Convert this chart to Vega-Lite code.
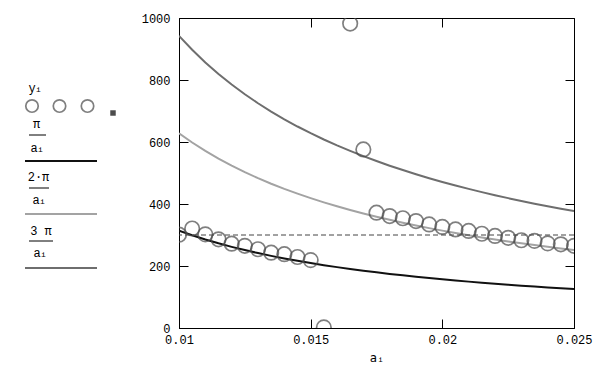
{
  "$schema": "https://vega.github.io/schema/vega-lite/v6.json",
  "background": "white",
  "padding": {"left": 0, "top": 11, "right": 5, "bottom": 5},
  "config": {"view": {"stroke": null}, "font": "Liberation Mono"},
  "bounds": "flush",
  "spacing": 29,
  "datasets": {
    "curves": [
      {"a": 0.0100, "p1": 314.16, "p2": 628.32, "p3": 942.48},
      {"a": 0.0105, "p1": 299.20, "p2": 598.40, "p3": 897.60},
      {"a": 0.0110, "p1": 285.60, "p2": 571.20, "p3": 856.80},
      {"a": 0.0115, "p1": 273.18, "p2": 546.36, "p3": 819.55},
      {"a": 0.0120, "p1": 261.80, "p2": 523.60, "p3": 785.40},
      {"a": 0.0125, "p1": 251.33, "p2": 502.65, "p3": 753.98},
      {"a": 0.0130, "p1": 241.66, "p2": 483.32, "p3": 724.98},
      {"a": 0.0135, "p1": 232.71, "p2": 465.42, "p3": 698.13},
      {"a": 0.0140, "p1": 224.40, "p2": 448.80, "p3": 673.20},
      {"a": 0.0145, "p1": 216.66, "p2": 433.32, "p3": 649.98},
      {"a": 0.0150, "p1": 209.44, "p2": 418.88, "p3": 628.32},
      {"a": 0.0155, "p1": 202.68, "p2": 405.36, "p3": 608.04},
      {"a": 0.0160, "p1": 196.35, "p2": 392.70, "p3": 589.05},
      {"a": 0.0165, "p1": 190.40, "p2": 380.80, "p3": 571.20},
      {"a": 0.0170, "p1": 184.80, "p2": 369.60, "p3": 554.40},
      {"a": 0.0175, "p1": 179.52, "p2": 359.04, "p3": 538.56},
      {"a": 0.0180, "p1": 174.53, "p2": 349.07, "p3": 523.60},
      {"a": 0.0185, "p1": 169.82, "p2": 339.64, "p3": 509.46},
      {"a": 0.0190, "p1": 165.35, "p2": 330.69, "p3": 496.04},
      {"a": 0.0195, "p1": 161.11, "p2": 322.22, "p3": 483.32},
      {"a": 0.0200, "p1": 157.08, "p2": 314.16, "p3": 471.24},
      {"a": 0.0205, "p1": 153.25, "p2": 306.50, "p3": 459.75},
      {"a": 0.0210, "p1": 149.60, "p2": 299.20, "p3": 448.80},
      {"a": 0.0215, "p1": 146.12, "p2": 292.24, "p3": 438.37},
      {"a": 0.0220, "p1": 142.80, "p2": 285.60, "p3": 428.40},
      {"a": 0.0225, "p1": 139.63, "p2": 279.25, "p3": 418.88},
      {"a": 0.0230, "p1": 136.59, "p2": 273.18, "p3": 409.77},
      {"a": 0.0235, "p1": 133.69, "p2": 267.38, "p3": 401.07},
      {"a": 0.0240, "p1": 130.90, "p2": 261.80, "p3": 392.70},
      {"a": 0.0245, "p1": 128.23, "p2": 256.46, "p3": 384.69},
      {"a": 0.0250, "p1": 125.66, "p2": 251.33, "p3": 377.00}
    ],
    "obs": [
      {"a": 0.0100, "y": 301},
      {"a": 0.0105, "y": 321},
      {"a": 0.0110, "y": 302},
      {"a": 0.0115, "y": 286},
      {"a": 0.0120, "y": 272},
      {"a": 0.0125, "y": 265},
      {"a": 0.0130, "y": 254},
      {"a": 0.0135, "y": 243},
      {"a": 0.0140, "y": 238},
      {"a": 0.0145, "y": 229},
      {"a": 0.0150, "y": 219},
      {"a": 0.0155, "y": 2},
      {"a": 0.0165, "y": 982},
      {"a": 0.0170, "y": 576},
      {"a": 0.0175, "y": 372},
      {"a": 0.0180, "y": 361},
      {"a": 0.0185, "y": 354},
      {"a": 0.0190, "y": 345},
      {"a": 0.0195, "y": 334},
      {"a": 0.0200, "y": 326},
      {"a": 0.0205, "y": 318},
      {"a": 0.0210, "y": 313},
      {"a": 0.0215, "y": 304},
      {"a": 0.0220, "y": 297},
      {"a": 0.0225, "y": 291},
      {"a": 0.0230, "y": 283},
      {"a": 0.0235, "y": 281},
      {"a": 0.0240, "y": 273},
      {"a": 0.0245, "y": 270},
      {"a": 0.0250, "y": 265}
    ]
  },
  "hconcat": [
    {
      "width": 150,
      "height": 310,
      "view": {"stroke": null},
      "data": {"values": [{}]},
      "layer": [
        {"mark": {"type": "text", "fontSize": 12, "font": "Liberation Mono", "color": "black"},
         "encoding": {"x": {"datum": 32, "type": "quantitative", "scale": {"domain": [0, 150], "nice": false, "zero": false}, "axis": null},
                      "y": {"datum": 70, "type": "quantitative", "scale": {"domain": [0, 310], "nice": false, "zero": false, "reverse": true}, "axis": null},
                      "text": {"value": "y"}}},
        {"mark": {"type": "text", "fontSize": 8, "font": "Liberation Mono", "color": "black"},
         "encoding": {"x": {"datum": 38.5}, "y": {"datum": 72}, "text": {"value": "i"}}},
        {"mark": {"type": "point", "shape": "circle", "filled": false, "size": 155, "strokeWidth": 1.7, "color": "#4a4a4a"},
         "encoding": {"x": {"datum": 32}, "y": {"datum": 88}}},
        {"mark": {"type": "point", "shape": "circle", "filled": false, "size": 155, "strokeWidth": 1.7, "color": "#4a4a4a"},
         "encoding": {"x": {"datum": 59.5}, "y": {"datum": 88}}},
        {"mark": {"type": "point", "shape": "circle", "filled": false, "size": 155, "strokeWidth": 1.7, "color": "#4a4a4a"},
         "encoding": {"x": {"datum": 87.5}, "y": {"datum": 88}}},
        {"mark": {"type": "square", "filled": true, "size": 30, "color": "black"},
         "encoding": {"x": {"datum": 113}, "y": {"datum": 95}}},
        {"mark": {"type": "text", "fontSize": 12, "font": "Liberation Mono", "color": "black"},
         "encoding": {"x": {"datum": 36.5}, "y": {"datum": 106}, "text": {"value": "π"}}},
        {"mark": {"type": "rule", "color": "black", "strokeWidth": 1},
         "encoding": {"x": {"datum": 29}, "x2": {"datum": 46}, "y": {"datum": 117}}},
        {"mark": {"type": "text", "fontSize": 12, "font": "Liberation Mono", "color": "black"},
         "encoding": {"x": {"datum": 34}, "y": {"datum": 130}, "text": {"value": "a"}}},
        {"mark": {"type": "text", "fontSize": 8, "font": "Liberation Mono", "color": "black"},
         "encoding": {"x": {"datum": 40.5}, "y": {"datum": 132}, "text": {"value": "i"}}},
        {"mark": {"type": "rule", "color": "#111111", "strokeWidth": 2},
         "encoding": {"x": {"datum": 25}, "x2": {"datum": 97}, "y": {"datum": 143}}},
        {"mark": {"type": "text", "fontSize": 12, "font": "Liberation Mono", "color": "black"},
         "encoding": {"x": {"datum": 38.5}, "y": {"datum": 159}, "text": {"value": "2·π"}}},
        {"mark": {"type": "rule", "color": "black", "strokeWidth": 1},
         "encoding": {"x": {"datum": 29}, "x2": {"datum": 49}, "y": {"datum": 170}}},
        {"mark": {"type": "text", "fontSize": 12, "font": "Liberation Mono", "color": "black"},
         "encoding": {"x": {"datum": 36}, "y": {"datum": 182}, "text": {"value": "a"}}},
        {"mark": {"type": "text", "fontSize": 8, "font": "Liberation Mono", "color": "black"},
         "encoding": {"x": {"datum": 42.5}, "y": {"datum": 184}, "text": {"value": "i"}}},
        {"mark": {"type": "rule", "color": "#a3a3a3", "strokeWidth": 2},
         "encoding": {"x": {"datum": 25}, "x2": {"datum": 97}, "y": {"datum": 196}}},
        {"mark": {"type": "text", "fontSize": 12, "font": "Liberation Mono", "color": "black"},
         "encoding": {"x": {"datum": 41}, "y": {"datum": 213}, "text": {"value": "3 π"}}},
        {"mark": {"type": "rule", "color": "black", "strokeWidth": 1},
         "encoding": {"x": {"datum": 29}, "x2": {"datum": 53}, "y": {"datum": 223}}},
        {"mark": {"type": "text", "fontSize": 12, "font": "Liberation Mono", "color": "black"},
         "encoding": {"x": {"datum": 37}, "y": {"datum": 235}, "text": {"value": "a"}}},
        {"mark": {"type": "text", "fontSize": 8, "font": "Liberation Mono", "color": "black"},
         "encoding": {"x": {"datum": 43.5}, "y": {"datum": 237}, "text": {"value": "i"}}},
        {"mark": {"type": "rule", "color": "#6e6e6e", "strokeWidth": 2},
         "encoding": {"x": {"datum": 25}, "x2": {"datum": 97}, "y": {"datum": 250}}}
      ]
    },
    {
      "width": 395,
      "height": 310,
      "view": {"stroke": "black", "strokeWidth": 1},
      "resolve": {"axis": {"x": "independent", "y": "independent"}},
      "layer": [
        {
          "data": {"name": "curves"},
          "mark": {"type": "line", "color": "#6e6e6e", "strokeWidth": 2, "clip": true},
          "encoding": {
            "x": {"field": "a", "type": "quantitative",
                  "scale": {"domain": [0.01, 0.025], "nice": false, "zero": false},
                  "axis": {"orient": "bottom", "values": [0.01, 0.015, 0.02, 0.025], "format": ".3~f",
                           "grid": false, "tickSize": -9, "tickColor": "black", "domainColor": "black",
                           "labelColor": "black", "labelFont": "Liberation Mono", "labelFontSize": 12,
                           "labelPadding": 15, "labelFlush": false, "labelOverlap": false,
                           "title": "aᵢ", "titleFont": "DejaVu Sans Mono", "titleFontSize": 12,
                           "titleFontWeight": "normal", "titleColor": "black", "titlePadding": 7}},
            "y": {"field": "p3", "type": "quantitative",
                  "scale": {"domain": [0, 1000], "nice": false, "zero": true},
                  "axis": {"orient": "left", "values": [0, 200, 400, 600, 800, 1000], "format": "d", "grid": false,
                           "tickSize": -9, "tickColor": "black", "domainColor": "black",
                           "labelColor": "black", "labelFont": "Liberation Mono", "labelFontSize": 12,
                           "labelPadding": 18, "labelFlush": false, "labelOverlap": false, "title": null}}
          }
        },
        {
          "data": {"name": "curves"},
          "mark": {"type": "line", "color": "#a3a3a3", "strokeWidth": 2, "clip": true},
          "encoding": {
            "x": {"field": "a", "type": "quantitative", "axis": null},
            "y": {"field": "p2", "type": "quantitative", "axis": null}
          }
        },
        {
          "data": {"name": "curves"},
          "mark": {"type": "line", "color": "#111111", "strokeWidth": 2, "clip": true},
          "encoding": {
            "x": {"field": "a", "type": "quantitative", "axis": null},
            "y": {"field": "p1", "type": "quantitative", "axis": null}
          }
        },
        {
          "data": {"values": [{}]},
          "mark": {"type": "rule", "color": "#444444", "strokeWidth": 1, "strokeDash": [5, 3]},
          "encoding": {"y": {"datum": 300, "type": "quantitative", "axis": null}}
        },
        {
          "data": {"name": "obs"},
          "mark": {"type": "point", "shape": "circle", "filled": false, "size": 210, "strokeWidth": 1.7, "color": "#4a4a4a", "clip": true},
          "encoding": {
            "x": {"field": "a", "type": "quantitative",
                  "axis": {"orient": "top", "values": [0.01, 0.015, 0.02, 0.025], "grid": false, "labels": false,
                           "tickSize": -9, "tickColor": "black", "domain": false, "title": null}},
            "y": {"field": "y", "type": "quantitative",
                  "axis": {"orient": "right", "values": [0, 200, 400, 600, 800, 1000], "grid": false, "labels": false,
                           "tickSize": -9, "tickColor": "black", "domain": false, "title": null}}
          }
        }
      ]
    }
  ]
}
